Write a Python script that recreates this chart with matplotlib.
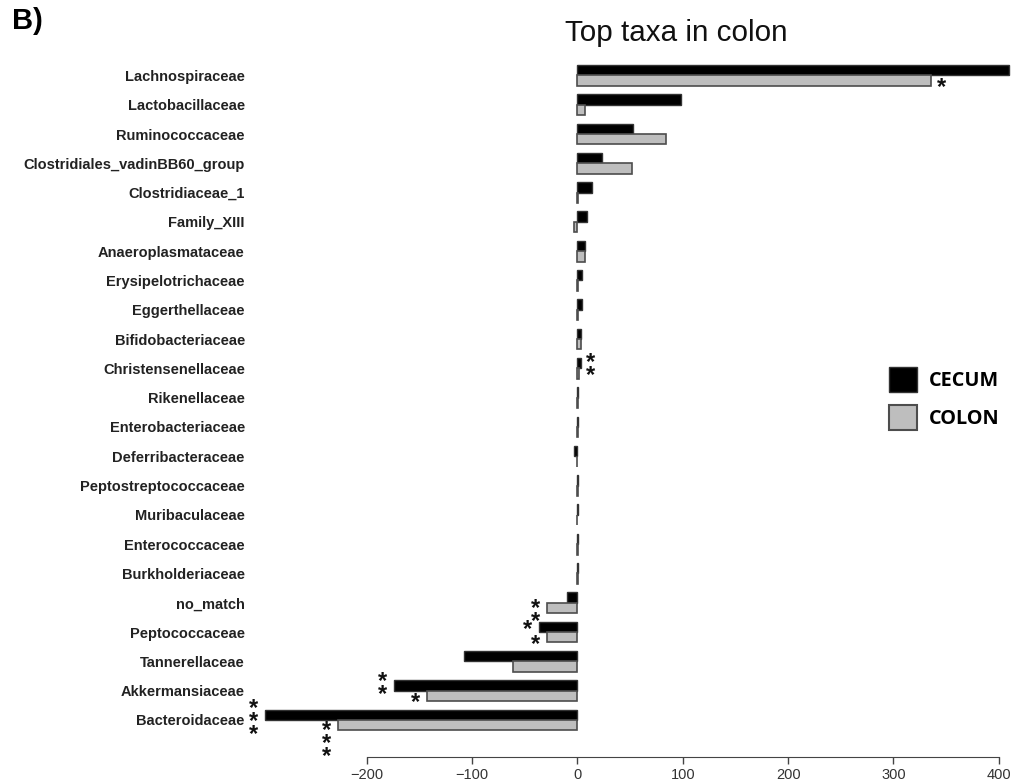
import matplotlib.pyplot as plt
import numpy as np
from matplotlib.patches import Patch

# taxa listed top to bottom, fold-change style values per compartment
families = [
    "Lachnospiraceae", "Lactobacillaceae", "Ruminococcaceae",
    "Clostridiales_vadinBB60_group", "Clostridiaceae_1", "Family_XIII",
    "Anaeroplasmataceae", "Erysipelotrichaceae", "Eggerthellaceae",
    "Bifidobacteriaceae", "Christensenellaceae", "Rikenellaceae",
    "Enterobacteriaceae", "Deferribacteraceae", "Peptostreptococcaceae",
    "Muribaculaceae", "Enterococcaceae", "Burkholderiaceae", "no_match",
    "Peptococcaceae", "Tannerellaceae", "Akkermansiaceae", "Bacteroidaceae",
]
cecum = [410, 98, 53, 23, 14, 9.5, 7, 4, 4, 3, 3, 0.5, 0.3, -3.5, 0.2,
         0.2, 0.1, 0.1, -9.5, -37, -108, -174, -297]
colon = [336, 7, 84, 52, 0.5, -3, 7, 0.5, 0.5, 3, 1, 0.3, 0.2, 0, 0.1,
         -0.2, 0.1, 0.1, -28.5, -28.5, -61, -143, -227]
cecum_sig = ["", "", "", "", "", "", "", "", "", "", "**", "", "", "", "",
             "", "", "", "", "*", "", "**", "***"]
colon_sig = ["*", "", "", "", "", "", "", "", "", "", "", "", "", "", "",
             "", "", "", "**", "*", "", "*", "***"]
xticks = [-200, -100, 0, 100, 200, 300, 400]

n = len(families)
ypos = np.arange(n)[::-1]
bh = 0.355

fig = plt.figure(figsize=(10.13, 7.82), dpi=100)
ax = fig.add_axes([0.2458, 0.032, 0.7525, 0.8978])

ax.barh(ypos + bh / 2, cecum, height=bh, color="black", edgecolor="#333333",
        linewidth=1.0)
ax.barh(ypos - bh / 2, colon, height=bh, color="#bebebe", edgecolor="#4d4d4d",
        linewidth=1.2)

star_font = dict(family="Liberation Sans", fontsize=17, fontweight="bold",
                 color="#111111", linespacing=0.44)


def put_stars(vals, sigs, yoff, nudge=None):
    nudge = nudge or {}
    for fam, v, s, y in zip(families, vals, sigs, ypos):
        if not s:
            continue
        side = 1 if v >= 0 else -1
        dx = 4 if side > 0 else -5
        dy = -5 + nudge.get(fam, 0)
        ax.annotate("\n".join(s), xy=(v, y + yoff),
                    xytext=(dx, dy), textcoords="offset points",
                    ha="left" if side > 0 else "right", va="center",
                    **star_font)


put_stars(cecum, cecum_sig, bh / 2,
          {"Akkermansiaceae": 3, "Peptococcaceae": 3, "Christensenellaceae": 1})
put_stars(colon, colon_sig, -bh / 2, {"Bacteroidaceae": -8})

ax.set_xlim(-312, 412)
ax.set_ylim(-1.263, 22.7)
ax.set_yticks(ypos)
ax.set_yticklabels(families, fontfamily="Liberation Sans", fontweight="bold",
                   fontsize=10.5, color="#222222")
ax.tick_params(axis="y", length=0, pad=3)
ax.set_xticks(xticks)
ax.tick_params(axis="x", length=5, width=1, color="#444444", labelsize=10.5,
               labelcolor="#333333", pad=3)
for lab in ax.get_xticklabels():
    lab.set_fontfamily("Liberation Sans")

for side in ["top", "right", "left"]:
    ax.spines[side].set_visible(False)
ax.spines["bottom"].set_bounds(-200, 400)
ax.spines["bottom"].set_color("#444444")

fig.text(676 / 1013, 1 - 33 / 782, "Top taxa in colon", ha="center",
         va="center", fontsize=21.3, family="Liberation Sans", color="#111111")
fig.text(12 / 1013, 1 - 21 / 782, "B)", ha="left", va="center", fontsize=21,
         family="Liberation Sans", fontweight="bold")

handles = [Patch(facecolor="black", edgecolor="#333333", linewidth=1.0),
           Patch(facecolor="#bebebe", edgecolor="#4d4d4d", linewidth=1.5)]
fig.legend(handles, ["CECUM", "COLON"], loc="upper left",
           bbox_to_anchor=(889 / 1013, 1 - 367 / 782), frameon=False,
           borderpad=0, borderaxespad=0, handlelength=1.4, handleheight=1.55,
           handletextpad=0.6, labelspacing=0.66,
           prop=dict(family="Open Sans", weight="bold", size=14.3))

fig.savefig("out.png", dpi=100)
